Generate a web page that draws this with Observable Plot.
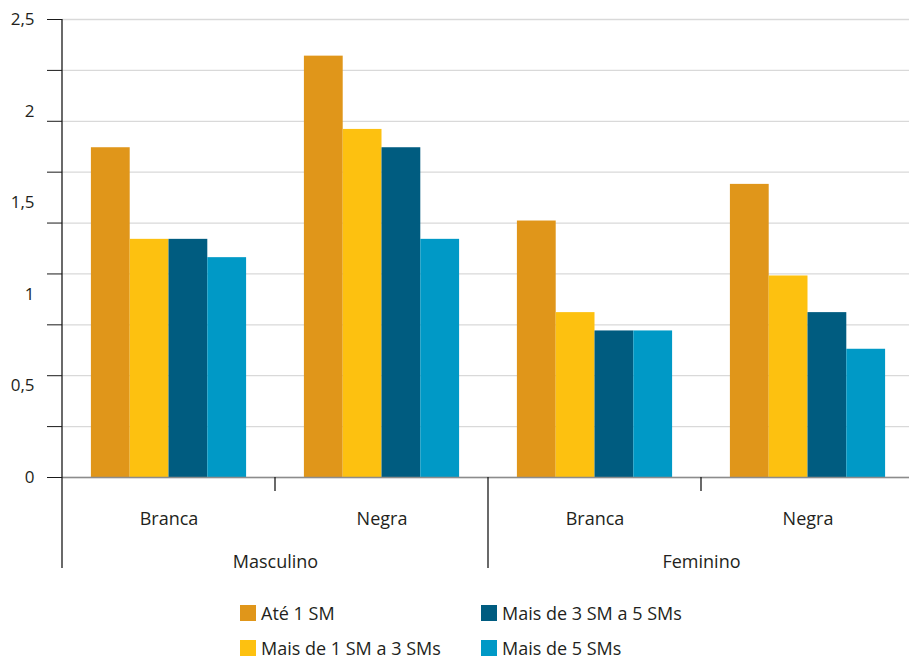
<!DOCTYPE html>
<html><head><meta charset="utf-8">
<script src="https://cdn.jsdelivr.net/npm/d3@7"></script>
<script src="https://cdn.jsdelivr.net/npm/@observablehq/plot@0.6"></script>
<style>
body{margin:0;background:#fff;font-family:"Open Sans",sans-serif;color:#231f20;}
#chart svg{display:block;overflow:visible;}
#legend{display:grid;grid-template-columns:241px 240px;grid-template-rows:repeat(2,35px);grid-auto-flow:column;margin-left:240px;padding-top:5px;font-size:18px;line-height:16px;}
#legend .item{display:flex;align-items:center;}
#legend .sw{width:16px;height:16px;margin-right:5px;flex:none;}
</style></head><body><div id="chart"></div><div id="legend"></div>
<script>
const sexos = ["Masculino","Masculino","Feminino","Feminino"];
const racas = ["Branca","Negra","Branca","Negra"];
const faixas = ["Até 1 SM","Mais de 1 SM a 3 SMs","Mais de 3 SM a 5 SMs","Mais de 5 SMs"];
const cores = ["#E0961A","#FDC110","#005C80","#0099C6"];
const ateUm = [1.8, 2.3, 1.4, 1.6];
const umATres = [1.3, 1.9, 0.9, 1.1];
const tresACinco = [1.3, 1.8, 0.8, 0.9];
const maisCinco = [1.2, 1.3, 0.8, 0.7];
const yLabelTicks = [0, 0.5, 1, 1.5, 2, 2.5];
const gridTicks = [0, 0.2778, 0.5556, 0.8333, 1.1111, 1.3889, 1.6667, 1.9444, 2.2222, 2.5];

const series = [ateUm, umATres, tresACinco, maisCinco];
const grupos = sexos.map((s, i) => s + "|" + racas[i]);
const rows = [];
grupos.forEach((g, i) => faixas.forEach((f, j) => rows.push({grupo: g, faixa: f, valor: series[j][i]})));
const sexoLabels = grupos.map((g, i) => ({grupo: g, sexo: sexos[i]}))
  .filter((d, i) => i === sexos.indexOf(sexos[i]));

const plot = Plot.plot({
  width: 909, height: 590,
  marginLeft: 62, marginRight: -5, marginTop: 19, marginBottom: 113,
  style: {fontFamily: "Open Sans", fontSize: "18px", color: "#231f20", background: "#fff"},
  fx: {domain: grupos, padding: 0, label: null, axis: null},
  x: {domain: faixas, paddingInner: 0, paddingOuter: 0.745, round: false, axis: null},
  y: {domain: [0, 2.5], label: null, axis: null},
  color: {domain: faixas, range: cores},
  marks: [
    Plot.gridY(gridTicks, {stroke: "#d9d9d9", strokeOpacity: 1, strokeWidth: 1.3}),
    Plot.barY(rows, {fx: "grupo", x: "faixa", y: "valor", fill: "faixa"}),
    Plot.ruleY([0], {stroke: "#8c8c8c", strokeWidth: 1.3}),
    Plot.axisY(gridTicks, {tickSize: 15, tickFormat: () => "", stroke: "#1a1a1a", strokeOpacity: 1}),
    Plot.axisY(yLabelTicks, {tickSize: 0, tickPadding: 28, fontSize: 17, tickFormat: d => String(d).replace(".", ",")}),
    Plot.axisFx({anchor: "bottom", tickSize: 0, tickPadding: 35, fontSize: 18, tickFormat: k => k.split("|")[1]}),
    Plot.text(sexoLabels, {fx: "grupo", text: "sexo", frameAnchor: "bottom-right", textAnchor: "middle", lineAnchor: "top", dy: 78, fontSize: 18, fill: "#231f20"})
  ]
});

// section separators drawn from the library's scales
const fx = plot.scale("fx"), y = plot.scale("y");
const y0 = y.apply(0), yTop = y.apply(2.5);
const g = d3.select(plot).append("g").attr("stroke", "#1a1a1a").attr("stroke-width", 1.3);
grupos.forEach((k, i) => {
  const x = fx.apply(k);
  const long = i === 0 || sexos[i] !== sexos[i - 1];
  g.append("line").attr("x1", x).attr("x2", x)
    .attr("y1", i === 0 ? yTop : y0)
    .attr("y2", y0 + (long ? 91 : 14));
});
document.getElementById("chart").append(plot);

const legend = d3.select("#legend");
faixas.forEach((f, i) => {
  const it = legend.append("div").attr("class", "item");
  it.append("div").attr("class", "sw").style("background", cores[i]);
  it.append("span").text(f);
});
</script></body></html>
